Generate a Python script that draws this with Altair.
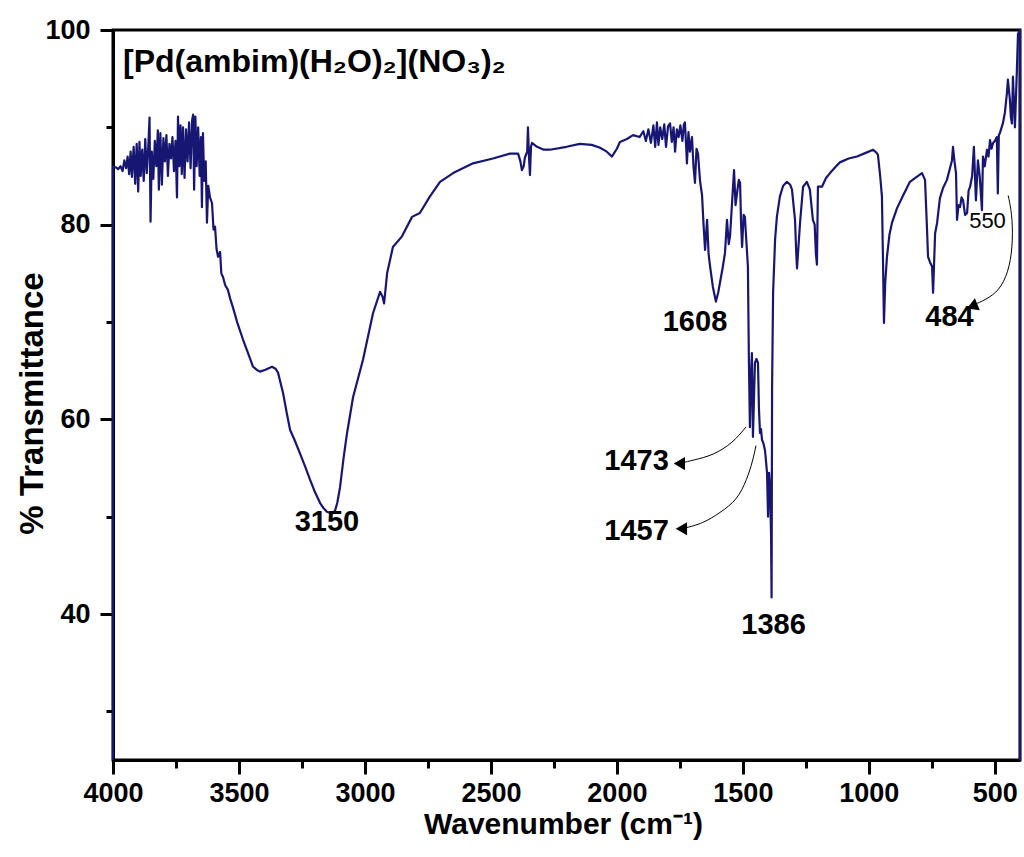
import altair as alt
import pandas as pd

# ---- spectrum (wavenumber cm-1, % transmittance) ----
wavenumber = [4000, 4000, 3990, 3980, 3970, 3962, 3955, 3948, 3942, 3936, 3930, 3925, 3918, 3912, 3906, 3900,
              3895, 3890, 3884, 3878, 3872, 3866, 3860, 3855, 3851, 3846, 3840, 3834, 3828, 3822, 3818, 3812,
              3806, 3800, 3794, 3788, 3782, 3776, 3770, 3764, 3758, 3752, 3746, 3742, 3737, 3732, 3727, 3722,
              3716, 3710, 3704, 3698, 3692, 3686, 3682, 3678, 3673, 3668, 3662, 3656, 3651, 3647, 3643, 3638,
              3632, 3627, 3622, 3615, 3607, 3601, 3595, 3589, 3583, 3575, 3570, 3563, 3555, 3544, 3535, 3524,
              3505, 3484, 3464, 3444, 3430, 3417, 3395, 3369, 3355, 3345, 3325, 3310, 3297, 3278, 3258, 3238,
              3218, 3198, 3178, 3165, 3151, 3140, 3130, 3119, 3110, 3099, 3085, 3071, 3047, 3008, 2968, 2940,
              2930, 2924, 2912, 2889, 2853, 2813, 2782,
              2742, 2702, 2650, 2571, 2492, 2424, 2392, 2383, 2377, 2370, 2365, 2356, 2353, 2349, 2345, 2341,
              2337, 2317, 2290, 2266, 2200, 2147, 2100, 2067, 2040, 2020, 2000, 1988, 1960, 1936, 1910, 1895,
              1885, 1875, 1865, 1855, 1848, 1841, 1835, 1828, 1820, 1812, 1805, 1797, 1789, 1782, 1775, 1769,
              1762, 1755, 1748, 1740, 1734, 1730, 1725, 1722, 1716, 1710, 1702, 1696, 1690, 1684, 1678, 1670,
              1662, 1656, 1650, 1642, 1636, 1630, 1619, 1607, 1598, 1591, 1580, 1571, 1563, 1556, 1551, 1543,
              1535, 1529, 1523, 1516, 1511, 1507, 1503, 1497, 1492, 1484, 1480, 1476, 1472, 1468, 1464, 1460,
              1456, 1452, 1446, 1440, 1436, 1432, 1428, 1424, 1418, 1412, 1404, 1400, 1396, 1392, 1388, 1386,
              1384, 1380, 1372, 1365, 1353, 1340, 1325, 1312, 1305, 1293, 1288, 1285, 1280, 1273, 1261, 1246,
              1234, 1222, 1215, 1210, 1206, 1204, 1202, 1186, 1170, 1154, 1130, 1115, 1080, 1047, 1010, 983,
              970, 964, 955, 948, 944, 940, 935, 928, 918, 908, 888, 864, 837, 810, 789, 777,
              769, 765, 755, 749, 745, 737, 729, 718, 705, 690, 678, 670, 666, 660, 654, 650,
              644, 638, 632, 626, 618, 610, 604, 598, 590, 583, 575, 567, 560, 551, 547, 540,
              531, 525, 519, 513, 507, 500, 492, 488, 484, 480, 468, 460, 452, 448, 440, 436,
              432, 428, 420, 412, 408, 400, 400]
transmittance = [25.0, 86.0, 85.9, 85.7, 86.0, 85.5, 86.6, 85.8, 87.0, 85.2, 87.5, 84.9, 88.0, 84.2, 88.3, 83.4,
                 88.5, 85.0, 87.7, 84.5, 88.8, 85.3, 88.0, 91.0, 80.3, 87.5, 84.7, 88.6, 86.0, 89.7, 83.6, 89.4,
                 84.1, 88.9, 86.5, 89.2, 85.0, 88.3, 86.8, 89.0, 85.5, 88.6, 82.8, 91.1, 86.0, 90.2, 85.2, 90.0,
                 84.8, 89.8, 86.5, 90.5, 85.8, 90.7, 91.3, 83.6, 91.1, 86.0, 90.0, 85.0, 89.0, 81.8, 89.4, 84.5,
                 86.5, 80.2, 84.0, 82.8, 82.2, 79.5, 79.8, 77.5, 76.7, 77.2, 75.0, 74.6, 73.8, 73.3, 72.4, 71.5,
                 69.8, 68.2, 66.8, 65.4, 65.1, 64.9, 65.1, 65.4, 65.2, 64.8, 62.7, 60.6, 58.9, 57.8, 56.5, 55.2,
                 53.8, 52.5, 51.4, 50.9, 50.5, 50.4, 50.4, 50.6, 51.4, 53.0, 56.0, 58.6, 62.3, 66.1, 70.9, 73.1,
                 72.6, 71.9, 75.0, 77.7, 78.8, 80.8, 81.2,
                 82.9, 84.4, 85.3, 86.3, 86.8, 87.3, 87.3, 86.5, 85.6, 86.0, 86.9, 87.5, 90.0, 87.0, 85.1, 88.0,
                 88.4, 88.0, 87.7, 87.7, 88.0, 88.3, 88.2, 87.9, 87.5, 87.0, 87.8, 88.5, 88.8, 89.2, 89.0, 89.6,
                 88.6, 89.8, 88.4, 90.2, 88.0, 90.5, 88.2, 90.0, 88.8, 90.3, 88.0, 90.1, 90.4, 88.5, 90.0, 87.5,
                 89.8, 89.0, 90.2, 88.6, 90.3, 90.5, 88.0, 86.3, 89.5, 87.5, 89.0, 86.0, 84.3, 87.8, 87.3, 84.5,
                 83.0, 80.0, 77.4, 80.5, 77.0, 75.7, 73.6, 72.1, 73.0, 74.0, 75.6, 77.1, 80.5, 78.0, 78.8, 82.2,
                 85.6, 82.0, 83.3, 84.6, 84.3, 80.0, 77.7, 81.0, 80.8, 77.4, 75.7, 66.0, 59.2, 64.5, 66.8, 58.2,
                 62.0, 65.8, 66.2, 65.8, 61.0, 58.6, 59.0, 57.9, 57.5, 56.8, 54.5, 50.0, 54.5, 53.0, 48.0, 41.7,
                 63.3, 73.0, 78.5, 80.8, 82.9, 84.0, 84.4, 84.1, 83.6, 80.5, 77.0, 75.5, 77.5, 80.2, 83.9, 84.4,
                 83.6, 80.5, 80.0, 77.0, 75.9, 80.0, 83.9, 83.9, 84.8, 85.3, 86.0, 86.4, 86.8, 87.0, 87.4, 87.7,
                 87.4, 87.2, 85.0, 82.9, 76.7, 69.9, 74.0, 76.7, 79.0, 80.2, 81.7, 83.0, 84.4, 84.9, 85.3, 84.6,
                 79.5, 76.7, 76.0, 75.7, 73.0, 79.1, 80.2, 82.7, 83.8, 84.6, 85.8, 86.6, 88.0, 86.5, 85.3, 80.5,
                 82.0, 81.8, 82.8, 82.5, 81.0, 81.2, 83.5, 83.9, 85.0, 88.0, 82.5, 86.6, 85.0, 81.5, 87.0, 86.0,
                 87.7, 87.0, 88.7, 87.8, 88.4, 88.6, 89.0, 83.2, 89.2, 89.4, 90.4, 91.5, 93.5, 94.9, 92.8, 91.0,
                 90.4, 95.2, 90.0, 96.2, 99.6, 100.0, 25.0]

# ---- peak labels ----
label_text = ["3150", "1608", "1386", "1473", "1457", "484"]
label_wn = [3151, 1690, 1378, 1922, 1922, 680]
label_tr = [49.45, 69.95, 38.9, 55.7, 48.5, 70.5]

small_label_text = ["550"]
small_label_wn = [529]
small_label_tr = [80.4]

title_text = ["[Pd(ambim)(H\u2082O)\u2082](NO\u2083)\u2082"]
title_wn = [3960]
title_tr = [95.7]

# ---- curved arrows (wavenumber, transmittance) ----
arrow_group = ["a"] * 5 + ["b"] * 7 + ["c"] * 7
arrow_wn = [1488, 1539, 1618, 1698, 1745,
            1448, 1460, 1484, 1523, 1591, 1658, 1735,
            447, 432, 428, 440, 472, 519, 580]
arrow_tr = [59.2, 57.6, 56.3, 55.8, 55.5,
            57.3, 55.8, 53.8, 51.7, 50.4, 49.3, 48.8,
            83.0, 81.2, 78.4, 75.7, 73.6, 72.5, 71.8]
head_wn = [1752, 1744, 590]
head_tr = [55.45, 48.75, 71.6]
head_angle = [0, 0, 338]

x_ticks = [4000, 3750, 3500, 3250, 3000, 2750, 2500, 2250, 2000, 1750, 1500, 1250, 1000, 750, 500]
y_ticks = [30, 40, 50, 60, 70, 80, 90, 100]

spec = pd.DataFrame({"wn": wavenumber, "tr": transmittance, "i": range(len(wavenumber))})
labels = pd.DataFrame({"wn": label_wn, "tr": label_tr, "t": label_text})
small = pd.DataFrame({"wn": small_label_wn, "tr": small_label_tr, "t": small_label_text})
ttl = pd.DataFrame({"wn": title_wn, "tr": title_tr, "t": title_text})
arrows = pd.DataFrame({"wn": arrow_wn, "tr": arrow_tr, "g": arrow_group, "i": range(len(arrow_wn))})
heads = pd.DataFrame({"wn": head_wn, "tr": head_tr, "a": head_angle})

FONT = "Liberation Sans"
NAVY = "#171773"

xscale = alt.Scale(domain=[4000, 400], nice=False, zero=False)
yscale = alt.Scale(domain=[25, 100], nice=False, zero=False)

xaxis = alt.Axis(
    values=x_ticks, format="d",
    labelExpr="datum.value % 500 === 0 ? datum.label : ''",
    tickSize={"condition": {"test": "datum.value % 500 === 0", "value": 14}, "value": 8},
    tickWidth=3, tickColor="black", domainColor="black", domainWidth=3,
    labelFont=FONT, labelFontSize=27, labelFontWeight="bold", labelColor="black",
    labelPadding=6, labelFlush=False, labelOverlap=False, grid=False,
    title="Wavenumber (cm\u207b\u00b9)", titleFont=FONT, titleFontSize=30, titleFontWeight="bold",
    titleColor="black", titleX=450, titleY=73, titleBaseline="alphabetic", titleAlign="center",
)
yaxis = alt.Axis(
    values=y_ticks, format="d",
    labelExpr="datum.value % 20 === 0 ? datum.label : ''",
    tickSize={"condition": {"test": "datum.value % 20 === 0", "value": 13}, "value": 7},
    tickWidth=3, tickColor="black", domainColor="black", domainWidth=3,
    labelFont=FONT, labelFontSize=27, labelFontWeight="bold", labelColor="black",
    labelPadding=10, labelFlush=False, labelOverlap=False, grid=False,
    title="% Transmittance", titleFont=FONT, titleFontSize=33, titleFontWeight="bold",
    titleColor="black", titleX=-71, titleY=373, titleAngle=270, titleBaseline="alphabetic",
    titleAlign="center",
)

line = alt.Chart(spec).mark_line(color=NAVY, strokeWidth=2.2, strokeJoin="round").encode(
    x=alt.X("wn:Q", scale=xscale, axis=xaxis),
    y=alt.Y("tr:Q", scale=yscale, axis=yaxis),
    order="i:Q",
)

arrow_lines = alt.Chart(arrows).mark_line(color="black", strokeWidth=1, interpolate="basis").encode(
    x=alt.X("wn:Q", scale=xscale), y=alt.Y("tr:Q", scale=yscale), detail="g:N", order="i:Q"
)
arrow_heads = alt.Chart(heads).mark_point(shape="triangle-left", filled=True, color="black",
                                          size=170, opacity=1).encode(
    x=alt.X("wn:Q", scale=xscale), y=alt.Y("tr:Q", scale=yscale), angle=alt.Angle("a:Q", scale=None)
)

peak_text = alt.Chart(labels).mark_text(font=FONT, fontSize=29, fontWeight="bold", color="black",
                                        align="center", baseline="middle").encode(
    x=alt.X("wn:Q", scale=xscale), y=alt.Y("tr:Q", scale=yscale), text="t:N"
)
small_text = alt.Chart(small).mark_text(font=FONT, fontSize=22, color="black",
                                        align="center", baseline="middle").encode(
    x=alt.X("wn:Q", scale=xscale), y=alt.Y("tr:Q", scale=yscale), text="t:N"
)
title_mark = alt.Chart(ttl).mark_text(font=FONT, fontSize=32, fontWeight="bold", color="black",
                                      align="left", baseline="alphabetic").encode(
    x=alt.X("wn:Q", scale=xscale), y=alt.Y("tr:Q", scale=yscale), text="t:N"
)

chart = alt.layer(line, arrow_lines, arrow_heads, peak_text, small_text, title_mark).properties(
    width=907, height=730,
    autosize=alt.AutoSizeParams(type="none"),
    padding={"left": 113, "top": 30, "right": 4, "bottom": 97},
    background="white",
).configure_view(stroke="black", strokeWidth=3)

chart.save("out.html", embed_options={"renderer": "svg", "actions": False})
